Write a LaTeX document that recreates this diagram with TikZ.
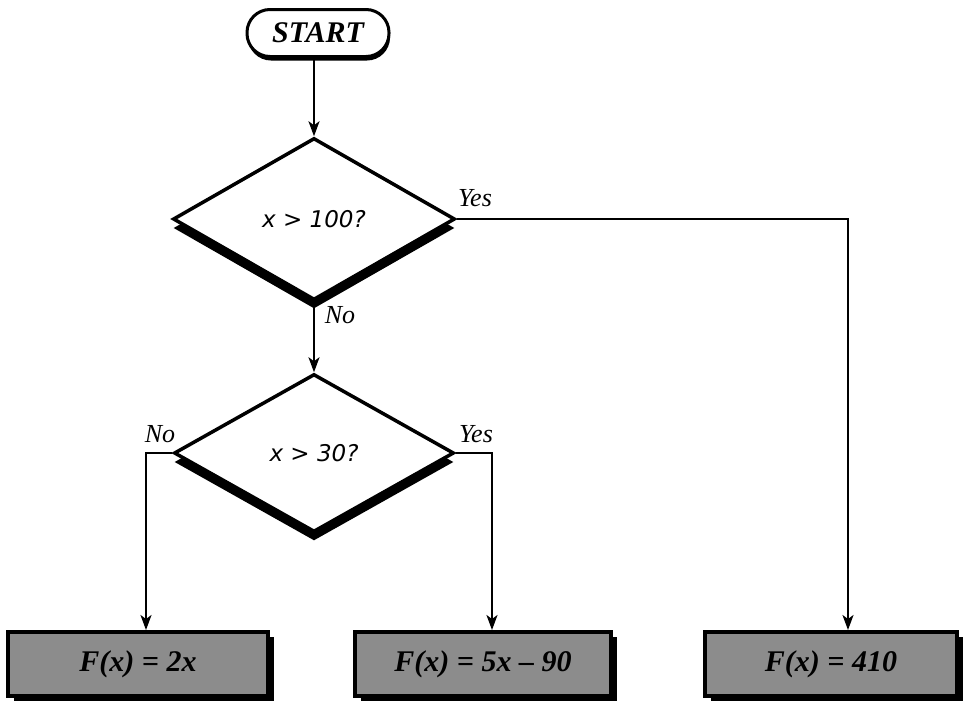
\documentclass[tikz,border=0pt]{standalone}
\usepackage{fontspec}
\setmainfont{Liberation Serif}
\newfontfamily\condfont{DejaVu Sans}
\usetikzlibrary{shapes.geometric,shadows,arrows.meta}

\tikzset{
  flow/.style={line width=2pt, -{Stealth[length=15pt,width=11pt,inset=4pt]}},
  terminal/.style={draw, line width=3pt, fill=white, rectangle,
    rounded corners=23pt, minimum width=142pt, minimum height=47pt,
    font=\fontsize{30}{32}\selectfont\bfseries\itshape,
    drop shadow={shadow xshift=1pt, shadow yshift=-4pt, fill=black, opacity=1}},
  decision/.style={draw, line width=3.5pt, fill=white, diamond, aspect=1.7,
    inner sep=0pt, font=\condfont\fontsize{23}{26}\selectfont\itshape,
    drop shadow={shadow xshift=0pt, shadow yshift=-9pt, fill=black, opacity=1}},
  result/.style={draw, line width=4pt, fill=black!45, rectangle,
    minimum height=64pt, inner sep=0pt,
    font=\fontsize{30}{32}\selectfont\bfseries\itshape,
    drop shadow={shadow xshift=6pt, shadow yshift=-5pt, fill=black, opacity=1}},
  answer/.style={font=\fontsize{26}{28}\selectfont\itshape, inner sep=0pt}
}

\begin{document}
\begin{tikzpicture}[x=1pt, y=-1pt]
  \useasboundingbox (0,0) rectangle (964,705);

  % start symbol
  \node[terminal] (start) at (318,33) {START};

  % the two tests
  \node[decision, minimum width=282pt, minimum height=162pt] (d1) at (314,219) {x > 100?};
  \node[decision, minimum width=280pt, minimum height=158pt] (d2) at (314,453) {x > 30?};

  % the three results
  \node[result, minimum width=260pt] (b1) at (138,664) {F(x) = 2x};
  \node[result, minimum width=256pt] (b2) at (483,664) {F(x) = 5x -- 90};
  \node[result, minimum width=252pt] (b3) at (831,664) {F(x) = 410};

  % corner points of the branch lines
  \coordinate (k1) at (848,219);
  \coordinate (k2) at (146,453);
  \coordinate (k3) at (492,453);

  % connectors
  \draw[flow] (d1.north |- start.south) -- (d1.north);
  \draw[flow] (d1.south) -- (d2.north);
  \draw[flow] (d1.east) -- (k1) -- (k1 |- b3.north);
  \draw[flow] (d2.west) -- (k2) -- (k2 |- b1.north);
  \draw[flow] (d2.east) -- (k3) -- (k3 |- b2.north);

  % branch labels
  \node[answer] (y1) at (475,198) {Yes};
  \node[answer] (n1) at (340,315) {No};
  \node[answer] (n2) at (160,434) {No};
  \node[answer] (y2) at (476,434) {Yes};
\end{tikzpicture}
\end{document}
